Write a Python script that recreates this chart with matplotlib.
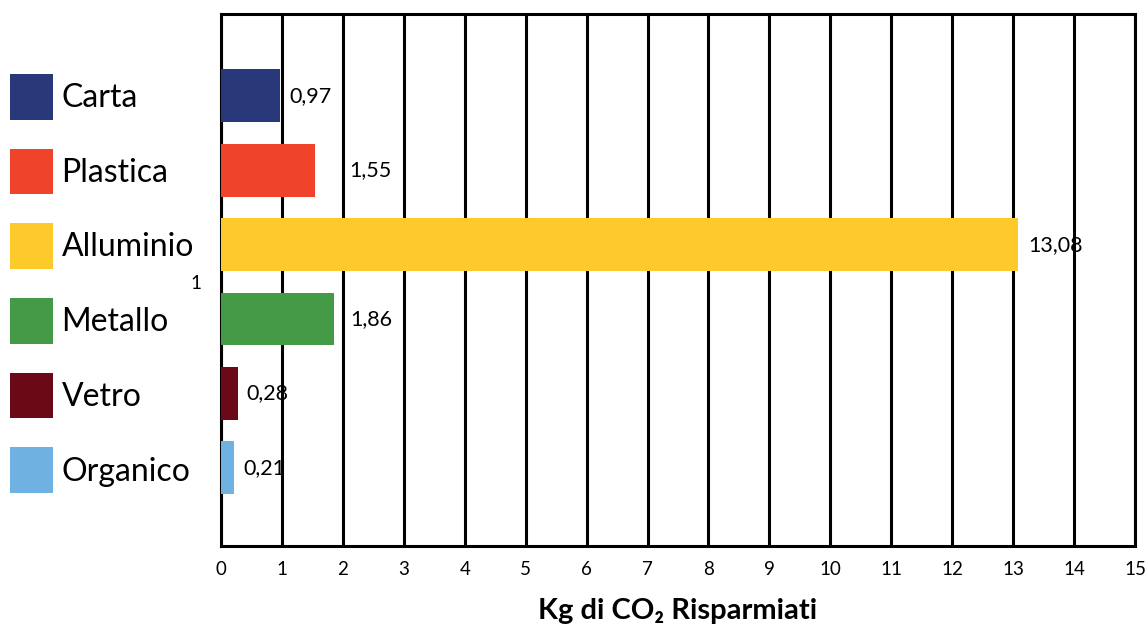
import matplotlib.pyplot as plt
from matplotlib.patches import Patch

materials = ['Carta', 'Plastica', 'Alluminio', 'Metallo', 'Vetro', 'Organico']
kg_co2 = [0.97, 1.55, 13.08, 1.86, 0.28, 0.21]
value_labels = ['0,97', '1,55', '13,08', '1,86', '0,28', '0,21']
colors = ['#283878', '#ef432c', '#fec92a', '#449a47', '#6a0a16', '#6fb1e0']
x_ticks = list(range(0, 16))
label_pad_px = [9, 34, 10, 16, 8, 10]

plt.rcParams['font.family'] = ['Lato', 'DejaVu Sans']

fig = plt.figure(figsize=(11.47, 6.32), dpi=100)
ax = fig.add_axes([221 / 1147, 86 / 632, 914 / 1147, 532 / 632])

ypos = list(range(len(materials)))
bars = ax.barh(ypos, kg_co2, height=0.71, color=colors, zorder=3)

ax.set_xlim(0, 15)
ax.set_ylim(5 + 1.05, -1.1)
ax.set_xticks(x_ticks)
ax.set_yticks([2.5])
ax.set_yticklabels(['1'])
ax.tick_params(axis='x', length=0, pad=11, labelsize=13.5)
ax.tick_params(axis='y', length=0, pad=14, labelsize=13.5)

ax.set_axisbelow(True)
ax.grid(axis='x', color='black', linewidth=2.2)
for s in ax.spines.values():
    s.set_linewidth(2.2)
    s.set_color('black')

for b, lab, pad in zip(bars, value_labels, label_pad_px):
    ax.annotate(lab, (b.get_width(), b.get_y() + b.get_height() / 2),
                xytext=(pad * 0.72, 0), textcoords='offset points',
                ha='left', va='center', fontsize=15.5, zorder=4)

ax.set_xlabel('Kg di CO₂ Risparmiati', fontsize=21, fontweight='bold', labelpad=14)

handles = [Patch(facecolor=c, edgecolor='none') for c in colors]
fig.legend(handles, materials, loc='upper left',
           bbox_to_anchor=(10 / 1147, 1 - 74 / 632), frameon=False,
           fontsize=23, borderpad=0, borderaxespad=0,
           handlelength=1.34, handleheight=1.82, handletextpad=0.27,
           labelspacing=0.91)

fig.savefig('out.png', dpi=100)
